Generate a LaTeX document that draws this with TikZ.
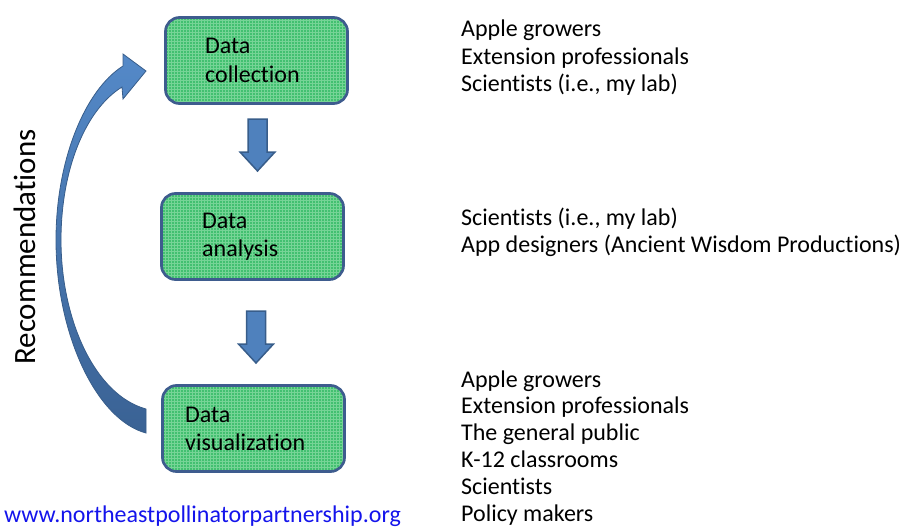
\documentclass[tikz,border=0pt]{standalone}
\usepackage{fontspec}
\setmainfont{Carlito}[Ligatures=NoCommon]
\usetikzlibrary{patterns}

\definecolor{boxgreen}{RGB}{66,192,112}
\definecolor{gridgreen}{RGB}{118,212,150}
\definecolor{boxborder}{RGB}{62,92,142}
\definecolor{arrowfill}{RGB}{79,129,189}
\definecolor{arrowline}{RGB}{56,93,138}
\definecolor{curvetop}{RGB}{84,137,200}
\definecolor{curvebottom}{RGB}{58,98,148}
\definecolor{linkblue}{RGB}{20,20,235}

\tikzset{
  stage/.style={draw=boxborder, line width=2.7pt, rounded corners=14pt,
    preaction={fill=boxgreen}, preaction={pattern=grid, pattern color=gridgreen},
    minimum width=182pt, minimum height=86pt, inner sep=0pt},
  stagetext/.style={anchor=base west, inner sep=0pt, font=\fontsize{24}{28}\selectfont},
  listline/.style={anchor=base west, inner sep=0pt, font=\fontsize{24}{28}\selectfont},
  downarrow/.style={fill=arrowfill, draw=arrowline, line width=1.5pt, line join=miter},
}

\begin{document}
\begin{tikzpicture}[x=1pt, y=-1pt]
\useasboundingbox (0,0) rectangle (907,527);

% the three stages
\node[stage] (collect) at (256.5,60.5) {};
\node[stage] (analyse) at (252.5,236.5) {};
\node[stage] (visual)  at (253.5,428.5) {};

\node[stagetext] (collectA) at (205,54) {Data};
\node[stagetext] (collectB) at (205,82) {collection};
\node[stagetext] (analyseA) at (202,228) {Data};
\node[stagetext] (analyseB) at (202,256.5) {analysis};
\node[stagetext] (visualA)  at (185,422) {Data};
\node[stagetext] (visualB)  at (185,450) {visualization};

% block arrows between the stages
\draw[downarrow] (248,119) -- (267,119) -- (267,152) -- (275,152) -- (257.5,171)
  -- (240,152) -- (248,152) -- cycle;
\draw[downarrow] (246.5,311) -- (265.5,311) -- (265.5,344) -- (273.5,344) -- (256,363)
  -- (238.5,344) -- (246.5,344) -- cycle;

% curved feedback arrow from visualization back to collection
\coordinate (tailtop) at (146,409);
\coordinate (tailbot) at (146,433);
\coordinate (headlow) at (122,87);
\coordinate (headup)  at (123,66);
\coordinate (tip)     at (146,71);
\draw[arrowline, line width=0.8pt, top color=curvetop, bottom color=curvebottom, line join=miter]
  (tailbot) -- (tailtop)
  .. controls (95,395) and (61,320) .. (61,240)
  .. controls (61,170) and (85,110) .. (headlow)
  -- (123,99) -- (tip) -- (123,54) -- (headup)
  .. controls (85,90) and (56,160) .. (56,240)
  .. controls (56,335) and (97,420) .. (tailbot) -- cycle;

\node[rotate=90, inner sep=0pt, font=\fontsize{31}{36}\selectfont] (recs) at (25,247) {Recommendations};

% who takes part in each stage
\node[listline] (c1) at (461,37)  {Apple growers};
\node[listline] (c2) at (461,64.5){Extension professionals};
\node[listline] (c3) at (461,92)  {Scientists (i.e., my lab)};

\node[listline] (a1) at (461,225) {Scientists (i.e., my lab)};
\node[listline] (a2) at (461,252.5){App designers (Ancient Wisdom Productions)};

\node[listline] (v1) at (461,387)   {Apple growers};
\node[listline] (v2) at (461,413.8) {Extension professionals};
\node[listline] (v3) at (461,440.6) {The general public};
\node[listline] (v4) at (461,467.4) {K-12 classrooms};
\node[listline] (v5) at (461,494.2) {Scientists};
\node[listline] (v6) at (461,521)   {Policy makers};

\node[listline, text=linkblue] (url) at (4,522.5) {www.northeastpollinatorpartnership.org};
\end{tikzpicture}
\end{document}
